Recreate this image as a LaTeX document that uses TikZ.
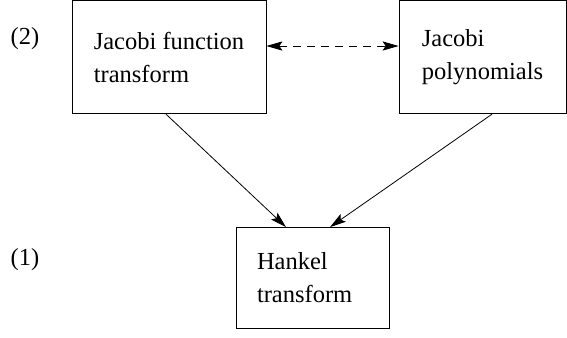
\documentclass[tikz,border=0pt]{standalone}
\usepackage{fontspec}
\setmainfont{Liberation Serif}
\usetikzlibrary{arrows.meta}

\begin{document}
\begin{tikzpicture}[
	x=0.5bp, y=-0.5bp,
	box/.style={
		draw, rectangle, align=left,
		inner xsep=10.5bp, inner ysep=0pt,
		font=\fontsize{12.3}{16.6}\selectfont
	},
	level/.style={font=\fontsize{12.3}{16.6}\selectfont},
	>={Stealth[length=8bp,width=4.6bp,inset=1.5bp]}
	]
	\useasboundingbox (0,0) rectangle (567,337);
	\node[box, minimum width=97bp, minimum height=56.5bp]
		(jft) at (169,57.25) {Jacobi function\\transform};
	\node[box, minimum width=83.5bp, minimum height=56.5bp]
		(jp) at (482.5,57.25) {Jacobi\\polynomials};
	\node[box, minimum width=76.5bp, minimum height=50.5bp, text width=55.5bp]
		(ht) at (312.5,278) {Hankel\\transform};
	\node[level] (l2) at (25,39) {(2)};
	\node[level] (l1) at (25,260) {(1)};
	\draw[<->, dash pattern=on 4bp off 3bp] (jft.east |- 0,46) -- (jp.west |- 0,46);
	\draw[->] (jft.south -| 166,0) -- (ht.north -| 286,0);
	\draw[->] (jp.south -| 492,0) -- (ht.north -| 330,0);
\end{tikzpicture}
\end{document}
